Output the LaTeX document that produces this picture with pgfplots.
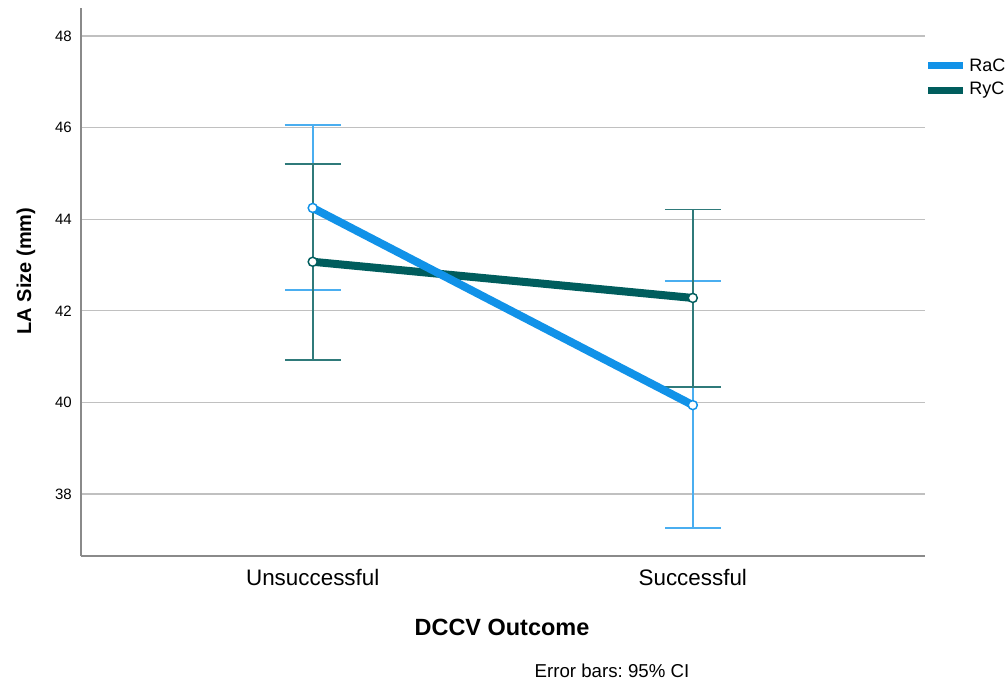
\documentclass[border=0pt]{standalone}
\usepackage{pgfplots}
\pgfplotsset{compat=1.18}
\usepackage{fontspec}
\setmainfont{Liberation Sans}
\frenchspacing
\definecolor{rac}{HTML}{1192E8}
\definecolor{ryc}{HTML}{005D5D}
\definecolor{racerr}{HTML}{4AAEF0}
\definecolor{rycerr}{HTML}{2F7A7A}
\definecolor{gridc}{HTML}{C0C0C0}
\definecolor{axc}{HTML}{8A8A8A}
\begin{document}
\begin{tikzpicture}
\useasboundingbox (-60.75pt,-96pt) rectangle (694.5pt,417pt);
\begin{axis}[
  at={(0,0)}, anchor=south west,
  scale only axis, width=633pt, height=411pt,
  xmin=-0.6097, xmax=1.611, ymin=36.646, ymax=48.611,
  axis lines*=left,
  axis line style={axc, line width=1.1pt},
  xtick={0,1}, xticklabels={Unsuccessful,Successful},
  ytick={38,40,42,44,46,48},
  ymajorgrids, grid style={gridc, line width=0.9pt},
  major tick length=0pt,
  /pgf/number format/assume math mode=true,
  xticklabel style={font=\fontsize{16.8pt}{18pt}\selectfont, anchor=base, inner sep=0pt, yshift=-22.5pt},
  yticklabel style={font=\fontsize{11.25pt}{13pt}\selectfont, anchor=east, inner sep=0pt, xshift=-6.75pt},
  xlabel={\bfseries DCCV Outcome},
  xlabel style={font=\fontsize{17.6pt}{20pt}\selectfont, at={(axis description cs:0.4988,-0.1442)}, anchor=base, inner sep=0pt},
  ylabel={\bfseries LA Size (mm)},
  ylabel style={font=\fontsize{15pt}{18pt}\selectfont, at={(axis description cs:-0.0592,0.52)}, anchor=base, rotate=0, inner sep=0pt},
]
% error bars RaC
\addplot[forget plot, only marks, mark=none,
  error bars/.cd, y dir=both, y explicit,
  error bar style={racerr, line width=1.2pt},
  error mark options={rotate=90, mark size=21pt, line width=1.2pt, racerr}]
  coordinates {(0,44.245) += (0,1.805) -= (0,1.795) (1,39.94) += (0,2.71) -= (0,2.68)};
% error bars RyC
\addplot[forget plot, only marks, mark=none,
  error bars/.cd, y dir=both, y explicit,
  error bar style={rycerr, line width=1.2pt},
  error mark options={rotate=90, mark size=21pt, line width=1.2pt, rycerr}]
  coordinates {(0,43.07) += (0,2.14) -= (0,2.14) (1,42.28) += (0,1.93) -= (0,1.94)};
% lines
\addplot[ryc, line width=6pt, mark=*, mark size=3.4pt, mark options={fill=white, draw=ryc, line width=1.1pt}]
  coordinates {(0,43.07) (1,42.28)};
\addplot[rac, line width=6pt, mark=*, mark size=3.4pt, mark options={fill=white, draw=rac, line width=1.1pt}]
  coordinates {(0,44.245) (1,39.94)};
\end{axis}
% legend
\draw[rac, line width=5.5pt] (635.25pt,367.9pt) -- (661.5pt,367.9pt);
\node[anchor=west, inner sep=0pt, font=\fontsize{13.5pt}{15pt}\selectfont] at (666pt,367.9pt) {RaC};
\draw[ryc, line width=5.5pt] (635.25pt,349.1pt) -- (661.5pt,349.1pt);
\node[anchor=west, inner sep=0pt, font=\fontsize{13.5pt}{15pt}\selectfont] at (666pt,349.1pt) {RyC};
% note
\node[anchor=base, inner sep=0pt, font=\fontsize{14pt}{16pt}\selectfont] at (398.25pt,-91.5pt) {Error bars: 95\% CI};
\end{tikzpicture}
\end{document}
